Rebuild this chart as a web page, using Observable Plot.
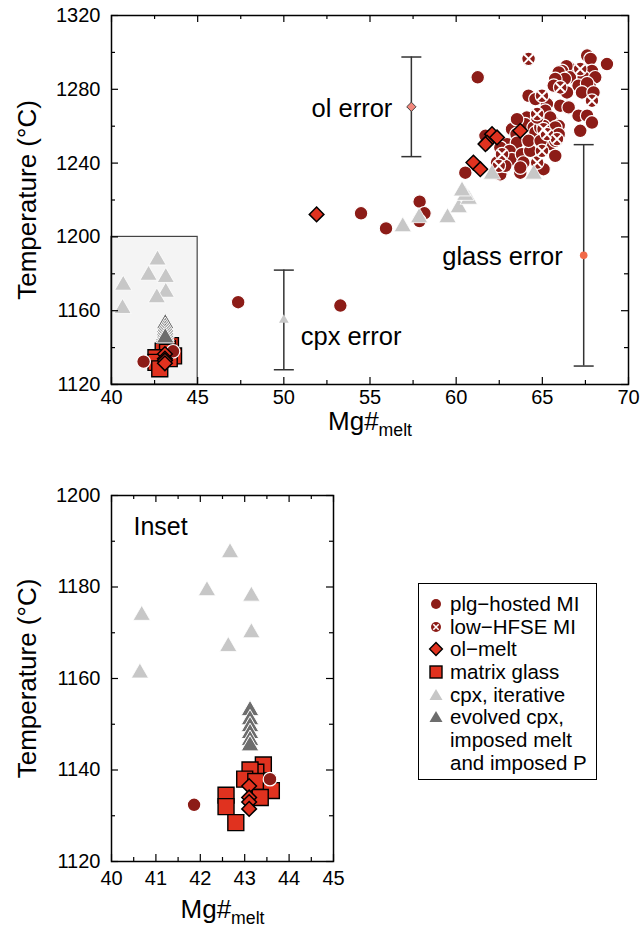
<!DOCTYPE html>
<html><head><meta charset="utf-8">
<script src="https://cdn.jsdelivr.net/npm/d3@7"></script>
<script src="https://cdn.jsdelivr.net/npm/@observablehq/plot@0.6"></script>
<style>
body{margin:0;background:#fff;font-family:"Liberation Sans",Arial,sans-serif;}
#wrap{position:relative;width:644px;height:929px;overflow:hidden;}
#top{position:absolute;left:0;top:0;}
#bot{position:absolute;left:0;top:470px;}
#legend{position:absolute;left:418px;top:583px;width:179px;height:197px;border:1.2px solid #000;box-sizing:border-box;padding-top:9px;font-size:20.5px;color:#000;}
#legend .row{position:relative;height:22.7px;line-height:22.7px;white-space:nowrap;}
#legend svg{position:absolute;left:8px;top:2px;}
#legend span{position:absolute;left:31px;top:0;}
</style></head>
<body><div id="wrap"><div id="top"></div><div id="bot"></div><div id="legend"></div></div>
<script>
// ---------------- data ----------------
// plg-hosted melt inclusions
const plgMg = [41.86,43.57,47.35,53.28,54.48,55.93,57.88,58.16,57.87,60.53,62.56,63.72,61.25,
 67.6,67.8,68.75,66.53,66.4,67.88,66.14,65.95,66.6,66.3,67.4,68.07,65.75,65.66,67.1,67.78,67.6,67.3,67.97,66.43,
 64.2,64.6,65.27,66.04,66.53,65.17,67.1,67.6,67.88,64.1,64.69,65.56,65.46,64.0,65.95,65.66,64.5,63.34,63.24,63.53,
 63.5,62.95,63.53,62.56,63.1,63.24,63.82,63.9,62.85,63.72,64.3,64.6,64.88,65.07,65.75,65.46,65.75,65.95,64.2,64.9,
 62.37,65.07,65.75,67.2,61.7,64.7];
const plgT = [1132.4,1138.0,1164.6,1162.8,1212.8,1204.6,1219.1,1212.8,1208.6,1234.8,1233.9,1234.8,1286.5,
 1298.3,1296.5,1293.7,1291.9,1292.5,1290,1290,1289.2,1286.5,1285.6,1286.5,1286.5,1285.6,1282,1282,1281,1283.3,1278.3,1278.3,1278.3,
 1276.5,1274.7,1272,1271.1,1270.2,1268.4,1265.7,1265.7,1262,1264.7,1262.9,1262.9,1264.7,1261.1,1260.2,1256.6,1259.3,1259.3,1258.4,1263.8,
 1255.7,1250.3,1251.1,1248.4,1246.6,1242.1,1244.8,1240.3,1238.5,1237.6,1246.6,1256.6,1259.3,1260.2,1259.3,1250.3,1252.1,1255.7,1252.1,1252,
 1240.3,1236.7,1243.9,1257.5,1254.8,1264.7];
// low-HFSE melt inclusions
const hfseMg = [64.2,67.2,66.04,64.98,67.88,65.07,62.66,64.7,64.98,65.27,62.47,64.7,65.85];
const hfseT  = [1296.5,1291,1281,1276.5,1273.8,1258.4,1244.8,1240.3,1246.6,1255.7,1238.5,1266.6,1253];
// ol-melt
const olMg = [51.9,62.08,62.37,61.79,61.7,63.72,61.0,61.4,43.1,43.1,43.1,43.1];
const olT  = [1212.2,1255.7,1253.9,1251.1,1250.3,1257.5,1240.3,1236.7,1136.5,1134,1133,1131.5];
// matrix glass
const glassMg = [43.42,43.25,43.12,43.0,43.25,43.6,43.35,42.58,42.58,42.8];
const glassT  = [1141.1,1139.5,1140,1138,1137.5,1135.5,1134,1134.5,1132,1128.5];
// cpx, iterative
const cpxMg = [42.67,42.15,43.15,40.68,43.15,42.63,40.64,56.9,57.85,59.5,60.15,60.73,60.53,60.34,62.08,64.5];
const cpxT  = [1187.5,1179.2,1178,1173.8,1170,1167,1161.2,1205.5,1210.4,1210.4,1215.8,1220.4,1222.5,1224.9,1234,1234];
// evolved cpx, imposed melt and imposed P
const evoMg = [43.12,43.12,43.12,43.12,43.12,43.12];
const evoT  = [1153,1151,1149.5,1148,1146.5,1145.3];
// error bars
const errLabel = ["cpx error","ol error","glass error"];
const errMg = [50, 57.4, 67.4];
const errT  = [1155, 1270.5, 1190];
const errLo = [1128, 1243.5, 1130];
const errHi = [1182, 1297.5, 1250];
// inset box
const insetMg = [40, 45];
const insetT  = [1120, 1200];
// ticks
const topXTicks = [40,45,50,55,60,65,70];
const topXMinor = [42.5,47.5,52.5,57.5,62.5,67.5];
const topYTicks = [1120,1160,1200,1240,1280,1320];
const topYMinor = [1140,1180,1220,1260,1300];
const botXTicks = [40,41,42,43,44,45];
const botXMinor = [40.5,41.5,42.5,43.5,44.5];
const botYTicks = [1120,1140,1160,1180,1200];
const botYMinor = [1130,1150,1170,1190];

// ---------------- styles ----------------
const DARK = "#8c1c17", RED = "#e0321f", LIGHT = "#c7c7c7", GREY = "#6d6d6d";
const FONT = '"Liberation Sans", Arial, Helvetica, sans-serif';
const rows = (xs, ys) => xs.map((x, i) => ({x, y: ys[i]}));
const plg = rows(plgMg, plgT), hfse = rows(hfseMg, hfseT), ol = rows(olMg, olT),
      glass = rows(glassMg, glassT), cpx = rows(cpxMg, cpxT), evo = rows(evoMg, evoT);
const err = errLabel.map((label, i) => ({label, x: errMg[i], y: errT[i], lo: errLo[i], hi: errHi[i]}));
const capSymbol = {draw(ctx) { ctx.moveTo(-10, 0); ctx.lineTo(10, 0); }};
const fmt = d => String(d);

function frameTicks(xMaj, xMin, yMaj, yMin, frameW, frameH) {
  const s = {stroke: "#000", strokeWidth: 1.2};
  const L = 7, l = 4;
  return [
    Plot.ruleX(xMaj, {x: d => d, insetTop: frameH - L, ...s}),
    Plot.ruleX(xMaj, {x: d => d, insetBottom: frameH - L, ...s}),
    Plot.ruleX(xMin, {x: d => d, insetTop: frameH - l, ...s}),
    Plot.ruleX(xMin, {x: d => d, insetBottom: frameH - l, ...s}),
    Plot.ruleY(yMaj, {y: d => d, insetRight: frameW - L, ...s}),
    Plot.ruleY(yMaj, {y: d => d, insetLeft: frameW - L, ...s}),
    Plot.ruleY(yMin, {y: d => d, insetRight: frameW - l, ...s}),
    Plot.ruleY(yMin, {y: d => d, insetLeft: frameW - l, ...s}),
  ];
}

function pointMarks(clip) {
  return [
    Plot.dot(glass, {x: "x", y: "y", symbol: "square", r: 9, fill: RED, stroke: "#000", strokeWidth: 1.4, clip}),
    Plot.dot(plg, {x: "x", y: "y", r: 6.8, fill: DARK, stroke: "#fff", strokeWidth: 1.2, clip}),
    Plot.dot(hfse, {x: "x", y: "y", r: 6.8, fill: DARK, stroke: "#fff", strokeWidth: 1.2, clip}),
    Plot.dot(hfse, {x: "x", y: "y", symbol: "times", r: 4.2, fill: "none", stroke: "#fff", strokeWidth: 2, clip}),
    Plot.dot(ol, {x: "x", y: "y", symbol: "diamond2", r: 6.6, fill: RED, stroke: "#000", strokeWidth: 1.5, clip}),
    Plot.dot(cpx, {x: "x", y: "y", symbol: "triangle", r: 6.4, fill: LIGHT, stroke: "#fff", strokeWidth: 0.8, clip}),
    Plot.dot(evo, {x: "x", y: "y", symbol: "triangle", r: 6.6, fill: GREY, stroke: "#fff", strokeWidth: 1, clip}),
  ];
}

function addSubscript(svg) {
  svg.querySelectorAll("text").forEach(t => {
    if (t.textContent === "Mg#") {
      const ts = document.createElementNS("http://www.w3.org/2000/svg", "tspan");
      ts.setAttribute("dy", "0.35em");
      ts.setAttribute("font-size", "0.68em");
      ts.textContent = "melt";
      t.appendChild(ts);
    }
  });
}

// ---------------- top panel ----------------
{
  const W = 644, H = 430, mL = 111, mR = 16, mT = 15, mB = 46;
  const p = Plot.plot({
    width: W, height: H, marginLeft: mL, marginRight: mR, marginTop: mT, marginBottom: mB,
    style: {fontFamily: FONT, fontSize: "20px", background: "transparent", overflow: "visible"},
    x: {domain: [40, 70]}, y: {domain: [1120, 1320]},
    marks: [
      Plot.rect([0], {x1: insetMg[0], x2: insetMg[1], y1: insetT[0], y2: insetT[1], fill: "#f4f4f4", stroke: "#444", strokeWidth: 1.2}),
      Plot.ruleX(err, {x: "x", y1: "lo", y2: "hi", stroke: "#333", strokeWidth: 1.5}),
      Plot.dot(err, {x: "x", y: "lo", symbol: capSymbol, stroke: "#333", strokeWidth: 1.5}),
      Plot.dot(err, {x: "x", y: "hi", symbol: capSymbol, stroke: "#333", strokeWidth: 1.5}),
      Plot.dot(err, {filter: d => d.label === "cpx error", x: "x", y: "y", symbol: "triangle", r: 3.6, fill: LIGHT}),
      Plot.dot(err, {filter: d => d.label === "ol error", x: "x", y: "y", symbol: "diamond2", r: 4.2, fill: "#f2877c", stroke: "#444", strokeWidth: 1}),
      Plot.dot(err, {filter: d => d.label === "glass error", x: "x", y: "y", r: 3.8, fill: "#f26a48"}),
      Plot.text(err, {filter: d => d.label === "ol error", x: "x", y: "y", text: "label", textAnchor: "end", dx: -19, dy: 2, fontSize: 25.5}),
      Plot.text(err, {filter: d => d.label === "glass error", x: "x", y: "y", text: "label", textAnchor: "end", dx: -21, dy: 1, fontSize: 25.5}),
      Plot.text(err, {filter: d => d.label === "cpx error", x: "x", y: "y", text: "label", textAnchor: "start", dx: 17, dy: 17, fontSize: 25.5}),
      ...pointMarks(false),
      Plot.frame({stroke: "#000", strokeWidth: 1.5}),
      ...frameTicks(topXTicks, topXMinor, topYTicks, topYMinor, W - mL - mR, H - mT - mB),
      Plot.axisX({ticks: topXTicks, tickFormat: fmt, tickSize: 0, tickPadding: 5, label: null, fontSize: 20}),
      Plot.axisY({ticks: topYTicks, tickFormat: fmt, tickSize: 0, tickPadding: 11, label: null, fontSize: 20}),
      Plot.text(["Temperature (°C)"], {frameAnchor: "left", dx: -84, rotate: -90, textAnchor: "middle", lineAnchor: "middle", fontSize: 26}),
      Plot.text(["Mg#"], {frameAnchor: "bottom", dy: 37, textAnchor: "middle", lineAnchor: "middle", fontSize: 26}),
    ]
  });
  addSubscript(p);
  document.getElementById("top").appendChild(p);
}

// ---------------- inset panel ----------------
{
  const W = 353, H = 441, mL = 111, mR = 20, mT = 25, mB = 50;
  const p = Plot.plot({
    width: W, height: H, marginLeft: mL, marginRight: mR, marginTop: mT, marginBottom: mB,
    style: {fontFamily: FONT, fontSize: "20px", background: "transparent", overflow: "visible"},
    x: {domain: [40, 45]}, y: {domain: [1120, 1200]},
    marks: [
      ...pointMarks(true),
      Plot.frame({stroke: "#000", strokeWidth: 1.5}),
      ...frameTicks(botXTicks, botXMinor, botYTicks, botYMinor, W - mL - mR, H - mT - mB),
      Plot.axisX({ticks: botXTicks, tickFormat: fmt, tickSize: 0, tickPadding: 9, label: null, fontSize: 20}),
      Plot.axisY({ticks: botYTicks, tickFormat: fmt, tickSize: 0, tickPadding: 11, label: null, fontSize: 20}),
      Plot.text(["Inset"], {frameAnchor: "top-left", dx: 22, dy: 22, textAnchor: "start", lineAnchor: "top", fontSize: 25}),
      Plot.text(["Temperature (°C)"], {frameAnchor: "left", dx: -84, rotate: -90, textAnchor: "middle", lineAnchor: "middle", fontSize: 26}),
      Plot.text(["Mg#"], {frameAnchor: "bottom", dy: 48, textAnchor: "middle", lineAnchor: "middle", fontSize: 26}),
    ]
  });
  addSubscript(p);
  document.getElementById("bot").appendChild(p);
}

// ---------------- legend ----------------
const legendItems = [
  {label: "plg−hosted MI", icon: `<circle cx="9" cy="9" r="5" fill="${DARK}"/>`},
  {label: "low−HFSE MI", icon: `<circle cx="9" cy="9" r="5" fill="${DARK}"/><path d="M6.3,6.3L11.7,11.7M11.7,6.3L6.3,11.7" stroke="#fff" stroke-width="1.6"/>`},
  {label: "ol−melt", icon: `<path d="M9,2.6L15.4,9L9,15.4L2.6,9Z" fill="${RED}" stroke="#000" stroke-width="1.4"/>`},
  {label: "matrix glass", icon: `<rect x="3" y="3" width="12" height="12" fill="${RED}" stroke="#000" stroke-width="1.4"/>`},
  {label: "cpx, iterative", icon: `<path d="M9,3L15.5,14L2.5,14Z" fill="${LIGHT}"/>`},
  {label: "evolved cpx,", icon: `<path d="M9,3L15.5,14L2.5,14Z" fill="${GREY}"/>`},
  {label: "imposed melt", icon: ""},
  {label: "and imposed P", icon: ""},
];
document.getElementById("legend").innerHTML = legendItems.map(d =>
  `<div class="row">${d.icon ? `<svg width="18" height="18" viewBox="0 0 18 18">${d.icon}</svg>` : ""}<span>${d.label}</span></div>`
).join("");
</script>
</body></html>
